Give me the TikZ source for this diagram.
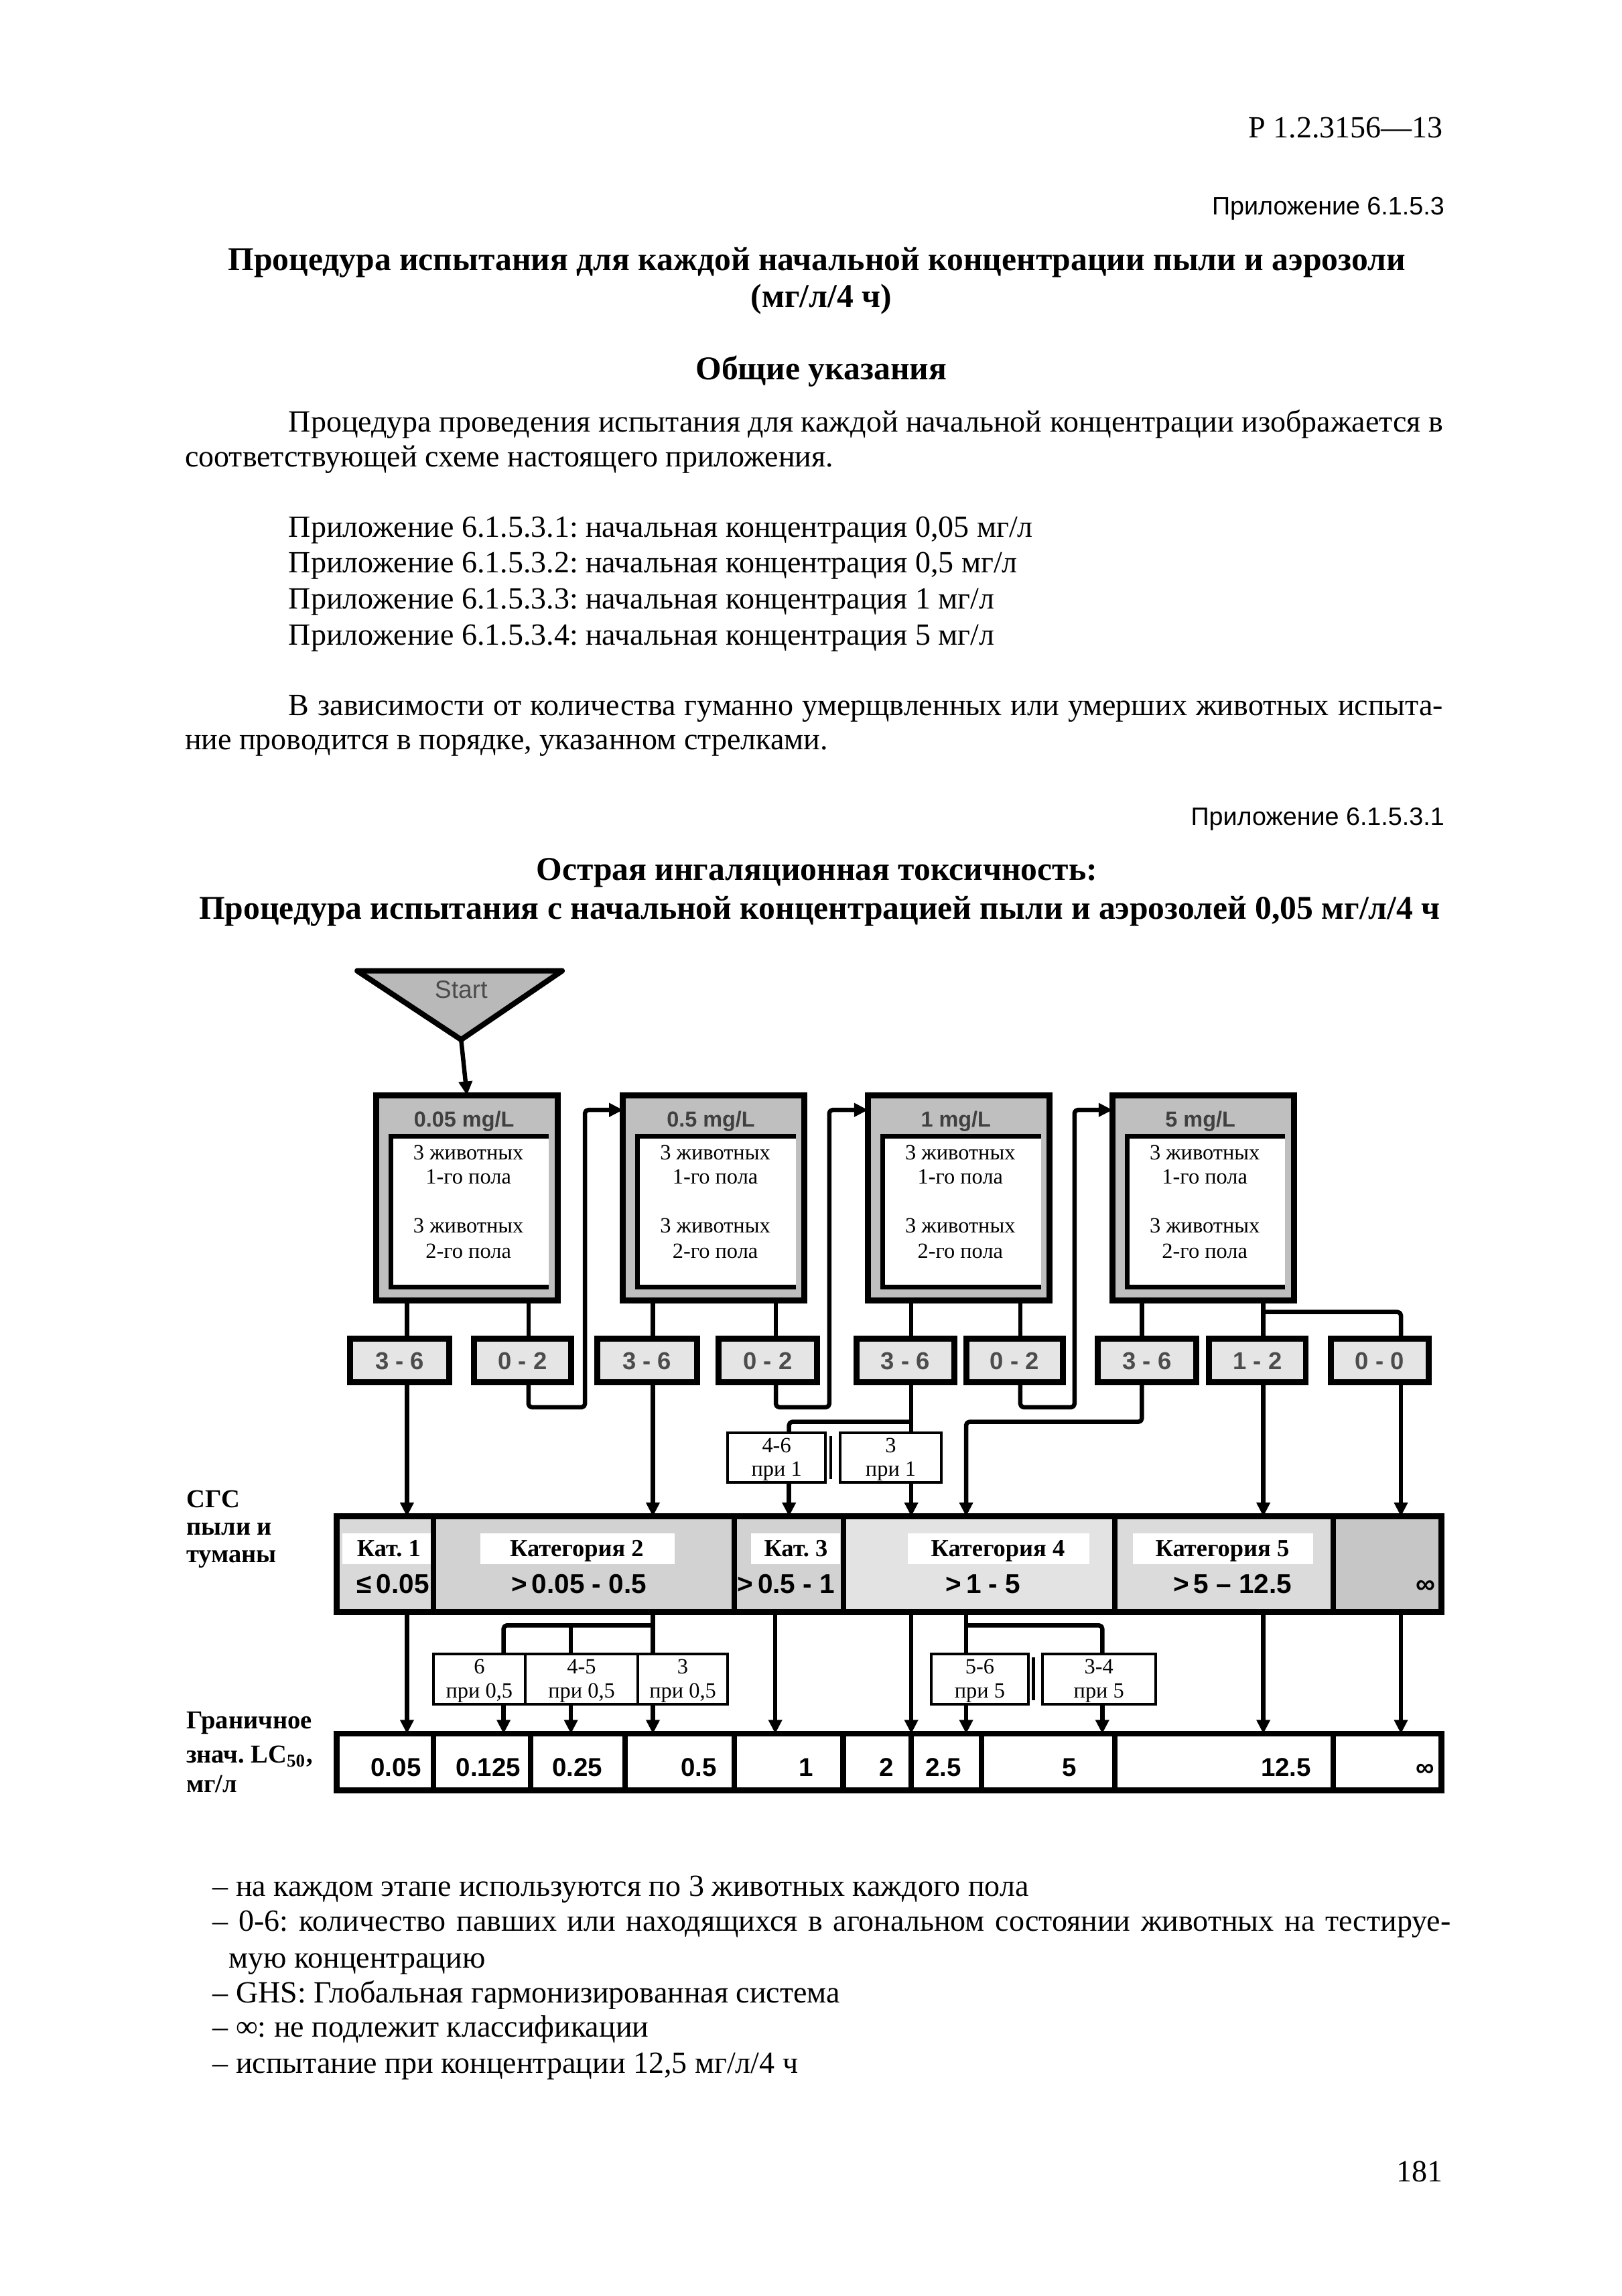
\documentclass[tikz,border=0pt]{standalone}
\usepackage{fontspec}
\setmainfont{Liberation Serif}
\setsansfont{Liberation Sans}
\usetikzlibrary{arrows.meta,fit}
\frenchspacing
\newcommand\fsz[1]{\fontsize{#1}{#1}\selectfont}
\tikzset{
  conn/.style={line width=1.6pt, rounded corners=1.2pt, line join=round},
  arr/.style={conn, -{Triangle[length=1.8mm,width=1.7mm]}},
  fitbox/.style={inner sep=0pt, outer sep=0pt},
  concbox/.style={fitbox, draw, line width=2.2pt, fill=gray!50},
  resbox/.style={fitbox, draw, line width=2.2pt, fill=gray!20},
  restxt/.style={inner sep=0pt, anchor=base, font=\sffamily\bfseries\fsz{9}, text=black!70},
  catsec/.style={fitbox, draw, line width=2pt},
  lcsec/.style={fitbox, draw, line width=2pt, fill=white},
  smallbox/.style={fitbox, draw, line width=1pt, fill=white},
  txt/.style={inner sep=0pt, font=\fsz{11.35}},
  ttl/.style={inner sep=0pt, font=\bfseries\fsz{12.25}},
  boxtxt/.style={inner sep=0pt, anchor=base, font=\fsz{8}},
  smtxt/.style={inner sep=0pt, anchor=base, font=\fsz{8}},
  cattxt/.style={inner sep=0pt, anchor=base, font=\bfseries\fsz{9}},
  catval/.style={inner sep=0pt, anchor=base, font=\sffamily\bfseries\fsz{10}},
  lcval/.style={inner sep=0pt, anchor=base east, font=\sffamily\bfseries\fsz{9.5}},
  side/.style={inner sep=0pt, anchor=base west, font=\bfseries\fsz{9.5}}
}
\begin{document}
\begin{tikzpicture}[x=0.18953mm,y=-0.18953mm]
\useasboundingbox (0,0) rectangle (1108,1568);
\fill[white] (0,0) rectangle (1108,1568);

% ---------------- page text ----------------
\node[txt, anchor=base east] (hdr) at (986,94) {Р 1.2.3156—13};
\node[txt, anchor=base east, font=\sffamily\fsz{9.3}] (app) at (987,146.5) {Приложение 6.1.5.3};
\node[ttl, anchor=base] (t1) at (558,184.5) {Процедура испытания для каждой начальной концентрации пыли и аэрозоли};
\node[ttl, anchor=base] (t2) at (561,209.7) {(мг/л/4 ч)};
\node[ttl, anchor=base] (t3) at (561,259.5) {Общие указания};
\node[txt, anchor=base west] (p1) at (196.8,295) {\makebox[149.48mm][s]{Процедура проведения испытания для каждой начальной концентрации изображается в}};
\node[txt, anchor=base west] (p2) at (126,318.6) {соответствующей схеме настоящего приложения.};
\node[txt, anchor=base west] (l1) at (196.8,367) {Приложение 6.1.5.3.1: начальная концентрация 0,05 мг/л};
\node[txt, anchor=base west] (l2) at (196.8,391.3) {Приложение 6.1.5.3.2: начальная концентрация 0,5 мг/л};
\node[txt, anchor=base west] (l3) at (196.8,416) {Приложение 6.1.5.3.3: начальная концентрация 1 мг/л};
\node[txt, anchor=base west] (l4) at (196.8,440.5) {Приложение 6.1.5.3.4: начальная концентрация 5 мг/л};
\node[txt, anchor=base west] (q1) at (196.8,488.7) {\makebox[149.48mm][s]{В зависимости от количества гуманно умерщвленных или умерших животных испыта-}};
\node[txt, anchor=base west] (q2) at (126,511.7) {ние проводится в порядке, указанном стрелками.};
\node[txt, anchor=base east, font=\sffamily\fsz{9.3}] (app2) at (987,563.7) {Приложение 6.1.5.3.1};
\node[ttl, anchor=base] (h1) at (558,601) {Острая ингаляционная токсичность:};
\node[ttl, anchor=base] (h2) at (560,627.8) {Процедура испытания с начальной концентрацией пыли и аэрозолей 0,05 мг/л/4 ч};

% ---------------- helper coordinates ----------------
\coordinate (Xa) at (278,0);
\coordinate (Xb) at (344,0);
\coordinate (Xc) at (361,0);
\coordinate (Xd) at (390,0);
\coordinate (Xe) at (399.6,0);
\coordinate (Xf) at (446,0);
\coordinate (Xg) at (529.6,0);
\coordinate (Xh) at (530,0);
\coordinate (Xi) at (539,0);
\coordinate (Xj) at (566.5,0);
\coordinate (Xk) at (622.5,0);
\coordinate (Xl) at (660,0);
\coordinate (Xm) at (697,0);
\coordinate (Xn) at (734,0);
\coordinate (Xo) at (753,0);
\coordinate (Xp) at (780,0);
\coordinate (Xq) at (863,0);
\coordinate (Xr) at (957,0);
\coordinate (Ya) at (0,758);
\coordinate (Yb) at (0,896);
\coordinate (Yc) at (0,961);
\coordinate (Yd) at (0,971);
\coordinate (Ye) at (0,1110);

% ---------------- start ----------------
\filldraw[fill=gray!55, draw=black, line width=2pt, line join=round] (244,663) -- (384,663) -- (315,710) -- cycle;
\node[inner sep=0pt, font=\sffamily\fsz{9.2}, text=black!70] (start) at (315,676) {Start};
\coordinate (apex) at (315,710);

% ---------------- concentration boxes ----------------
\foreach \i/\L/\t in {1/257/0.05,2/425.6/0.5,3/593/1,4/760/5}{
  \node[concbox, fit={(\L,748) (\L+124,888)}] (c\i) {};
  \node[fitbox, fill=white, fit={(\L+10,776) (\L+118,879)}] (ci\i) {};
  \draw[line width=1.8pt] (ci\i.north east) -- (ci\i.north west) -- (ci\i.south west) -- (ci\i.south east);
  \node[inner sep=0pt, anchor=base, font=\sffamily\bfseries\fsz{8}, text=black!75] (ct\i) at (\L+60,769.5) {\t\ mg/L};
  \node[boxtxt] (a\i) at (\L+63,792) {3 животных};
  \node[boxtxt] (b\i) at (\L+63,808.7) {1-го пола};
  \node[boxtxt] (d\i) at (\L+63,842) {3 животных};
  \node[boxtxt] (e\i) at (\L+63,859.5) {2-го пола};
}
\draw[arr] (apex) -- (c1.north);

% ---------------- result boxes ----------------
\foreach \n/\xa/\xb/\t in {r1a/239/307/{3 - 6}, r1b/324/390/{0 - 2}, r2a/408/476/{3 - 6}, r2b/491/558/{0 - 2},
                          r3a/585/652/{3 - 6}, r3b/660/726/{0 - 2}, r4a/750/817/{3 - 6}, r4b/826/892/{1 - 2}, r4c/909/976/{0 - 0}}{
  \node[resbox, fit={(\xa,914) (\xb,944)}] (\n) {};
  \node[restxt] at ([yshift=-3.3pt]\n.center) {\t};
}

% ---------------- small boxes (upper) ----------------
\node[smallbox, fit={(497,978.6) (564,1012.5)}] (s46) {};
\node[smtxt] at (530.5,992) {4-6};
\node[smtxt] at (530.5,1008) {при 1};
\draw[line width=1.2pt] (567.5,981) -- (567.5,1010);
\node[smallbox, fit={(574,978.6) (643,1012.5)}] (s3) {};
\node[smtxt] at (608.5,992) {3};
\node[smtxt] at (608.5,1008) {при 1};

% ---------------- category bar ----------------
\node[catsec, fill=gray!30, fit={(229.8,1035.6) (296,1101)}] (k1) {};
\node[catsec, fill=gray!35, fit={(296,1035.6) (501.7,1101)}] (k2) {};
\node[catsec, fill=gray!35, fit={(501.7,1035.6) (576.3,1101)}] (k3) {};
\node[catsec, fill=gray!22, fit={(576.3,1035.6) (761.6,1101)}] (k4) {};
\node[catsec, fill=gray!28, fit={(761.6,1035.6) (910.6,1101)}] (k5) {};
\node[catsec, fill=gray!45, fit={(910.6,1035.6) (984.7,1101)}] (k6) {};
\node[fitbox, draw, line width=2.2pt, fit=(k1)(k6)] (bar) {};
\fill[white] (234,1047) rectangle (294.5,1068);
\fill[white] (328,1047) rectangle (461,1068);
\fill[white] (513,1047) rectangle (574,1068);
\fill[white] (620,1047) rectangle (744,1068);
\fill[white] (774,1047) rectangle (897,1068);
\node[cattxt] at (265.6,1063) {Кат. 1};
\node[cattxt] at (394,1063) {Категория 2};
\node[cattxt] at (543.7,1063) {Кат. 3};
\node[cattxt] at (681.7,1063) {Категория 4};
\node[cattxt] at (835,1063) {Категория 5};
\node[catval] at (268.5,1088) {≤\,0.05};
\node[catval] at (395.5,1088) {>\,0.05 - 0.5};
\node[catval] at (537,1088) {>\,0.5 - 1};
\node[catval] at (671.6,1088) {>\,1 - 5};
\node[catval] at (842,1088) {>\,5 – 12.5};
\node[catval, anchor=base east] at (981,1088) {∞};

% ---------------- small boxes (lower) ----------------
\node[smallbox, fit={(296,1129.6) (358.8,1164)}] (t6) {};
\node[smallbox, fit={(358.8,1129.6) (435.8,1164)}] (t45) {};
\node[smallbox, fit={(435.8,1129.6) (497,1164)}] (t3) {};
\node[smallbox, fit={(636,1129.6) (702.5,1164)}] (t56) {};
\draw[line width=1.2pt] (706,1132) -- (706,1161);
\node[smallbox, fit={(712,1129.6) (789.5,1164)}] (t34) {};
\node[smtxt] at (327.4,1143) {6};
\node[smtxt] at (327.4,1159.4) {при 0,5};
\node[smtxt] at (397.3,1143) {4-5};
\node[smtxt] at (397.3,1159.4) {при 0,5};
\node[smtxt] at (466.4,1143) {3};
\node[smtxt] at (466.4,1159.4) {при 0,5};
\node[smtxt] at (669.3,1143) {5-6};
\node[smtxt] at (669.3,1159.4) {при 5};
\node[smtxt] at (750.7,1143) {3-4};
\node[smtxt] at (750.7,1159.4) {при 5};

% ---------------- LC50 bar ----------------
\node[lcsec, fit={(229.8,1184) (296,1222.5)}] (v1) {};
\node[lcsec, fit={(296,1184) (362.5,1222.5)}] (v2) {};
\node[lcsec, fit={(362.5,1184) (427.2,1222.5)}] (v3) {};
\node[lcsec, fit={(427.2,1184) (501.7,1222.5)}] (v4) {};
\node[lcsec, fit={(501.7,1184) (576,1222.5)}] (v5) {};
\node[lcsec, fit={(576,1184) (622.5,1222.5)}] (v6) {};
\node[lcsec, fit={(622.5,1184) (670.3,1222.5)}] (v7) {};
\node[lcsec, fit={(670.3,1184) (761.6,1222.5)}] (v8) {};
\node[lcsec, fit={(761.6,1184) (910.6,1222.5)}] (v9) {};
\node[lcsec, fit={(910.6,1184) (984.7,1222.5)}] (v10) {};
\node[fitbox, draw, line width=2.2pt, fit=(v1)(v10)] (lc) {};
\node[lcval] at (288,1213) {0.05};
\node[lcval] at (356,1213) {0.125};
\node[lcval] at (412,1213) {0.25};
\node[lcval] at (490,1213) {0.5};
\node[lcval] at (556,1213) {1};
\node[lcval] at (611,1213) {2};
\node[lcval] at (657,1213) {2.5};
\node[lcval] at (736,1213) {5};
\node[lcval] at (896,1213) {12.5};
\node[lcval] at (980,1213) {∞};

% ---------------- side labels ----------------
\node[side] at (127,1029.5) {СГС};
\node[side] at (127,1048.5) {пыли и};
\node[side] at (127,1067) {туманы};
\node[side] at (127,1180.5) {Граничное};
\node[side] at (127,1204) {знач. LC\textsubscript{50},};
\node[side] at (127,1224) {мг/л};

% ---------------- connectors: upper part ----------------
% box 1
\draw[conn] (c1.south -| Xa) -- (r1a.north -| Xa);
\draw[conn] (c1.south -| Xc) -- (r1b.north -| Xc);
\draw[arr] (r1a.south -| Xa) -- (bar.north -| Xa);
\draw[arr] (r1b.south -| Xc) -- (Xc |- Yc) -- (Xe |- Yc) -- (Xe |- Ya) -- (c2.west |- Ya);
% box 2
\draw[conn] (c2.south -| Xf) -- (r2a.north -| Xf);
\draw[conn] (c2.south -| Xh) -- (r2b.north -| Xh);
\draw[arr] (r2a.south -| Xf) -- (bar.north -| Xf);
\draw[arr] (r2b.south -| Xh) -- (Xh |- Yc) -- (Xj |- Yc) -- (Xj |- Ya) -- (c3.west |- Ya);
% box 3
\draw[conn] (c3.south -| Xk) -- (r3a.north -| Xk);
\draw[conn] (c3.south -| Xm) -- (r3b.north -| Xm);
\draw[conn] (r3a.south -| Xk) -- (s3.north -| Xk);
\draw[conn] (Xk |- Yd) -- (Xi |- Yd) -- (s46.north -| Xi);
\draw[arr] (s46.south -| Xi) -- (bar.north -| Xi);
\draw[arr] (s3.south -| Xk) -- (bar.north -| Xk);
\draw[arr] (r3b.south -| Xm) -- (Xm |- Yc) -- (Xn |- Yc) -- (Xn |- Ya) -- (c4.west |- Ya);
% box 4
\draw[conn] (c4.south -| Xp) -- (r4a.north -| Xp);
\draw[conn] (c4.south -| Xq) -- (r4b.north -| Xq);
\draw[conn] (Xq |- Yb) -- (Xr |- Yb) -- (r4c.north -| Xr);
\draw[arr] (r4a.south -| Xp) -- (Xp |- Yd) -- (Xl |- Yd) -- (bar.north -| Xl);
\draw[arr] (r4b.south -| Xq) -- (bar.north -| Xq);
\draw[arr] (r4c.south -| Xr) -- (bar.north -| Xr);

% ---------------- connectors: lower part ----------------
\draw[arr] (bar.south -| Xa) -- (lc.north -| Xa);
\draw[conn] (bar.south -| Xf) -- (t3.north -| Xf);
\draw[conn] (Xf |- Ye) -- (Xb |- Ye) -- (t6.north -| Xb);
\draw[conn] (Xd |- Ye) -- (t45.north -| Xd);
\draw[arr] (t6.south -| Xb) -- (lc.north -| Xb);
\draw[arr] (t45.south -| Xd) -- (lc.north -| Xd);
\draw[arr] (t3.south -| Xf) -- (lc.north -| Xf);
\draw[arr] (bar.south -| Xg) -- (lc.north -| Xg);
\draw[arr] (bar.south -| Xk) -- (lc.north -| Xk);
\draw[conn] (bar.south -| Xl) -- (t56.north -| Xl);
\draw[conn] (Xl |- Ye) -- (Xo |- Ye) -- (t34.north -| Xo);
\draw[arr] (t56.south -| Xl) -- (lc.north -| Xl);
\draw[arr] (t34.south -| Xo) -- (lc.north -| Xo);
\draw[arr] (bar.south -| Xq) -- (lc.north -| Xq);
\draw[arr] (bar.south -| Xr) -- (lc.north -| Xr);

% ---------------- notes ----------------
\node[txt, anchor=base west] (n1) at (145,1295.2) {– на каждом этапе используются по 3 животных каждого пола};
\node[txt, anchor=base west] (n2) at (145,1318.8) {\makebox[160.3mm][s]{– 0-6: количество павших или находящихся в агональном состоянии животных на тестируе-}};
\node[txt, anchor=base west] (n3) at (156,1344) {мую концентрацию};
\node[txt, anchor=base west] (n4) at (145,1367.6) {– GHS: Глобальная гармонизированная система};
\node[txt, anchor=base west] (n5) at (145,1391.3) {– ∞: не подлежит классификации};
\node[txt, anchor=base west] (n6) at (145,1415.7) {– испытание при концентрации 12,5 мг/л/4 ч};
\node[txt, anchor=base east] (pg) at (986,1490) {181};
\end{tikzpicture}
\end{document}
